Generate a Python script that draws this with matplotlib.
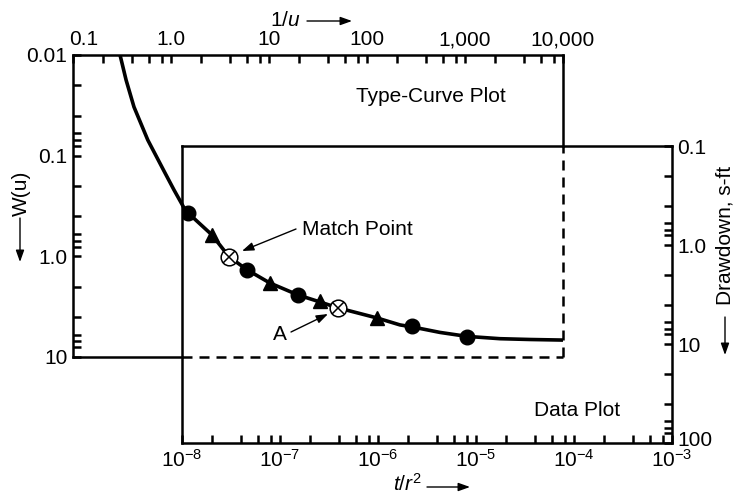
import numpy as np
import matplotlib
matplotlib.use("Agg")
import matplotlib.pyplot as plt
from matplotlib.patches import FancyArrowPatch
from matplotlib.transforms import ScaledTranslation

# Theis type-curve matching sketch: type curve (W(u) vs 1/u) laid over the data plot (s vs t/r^2)

plt.rcParams['font.family'] = ['Liberation Sans', 'DejaVu Sans']
plt.rcParams['mathtext.fontset'] = 'custom'
plt.rcParams['mathtext.rm'] = 'Liberation Sans'
plt.rcParams['mathtext.it'] = 'Liberation Sans:italic'

# type curve
inv_u = [0.302, 0.348, 0.419, 0.58, 0.869, 1.073, 1.341, 1.49, 2.62, 3.91, 5.97, 10.2,
         19.8, 33.1, 50.6, 126, 217, 288, 556, 1048, 2276, 4603, 10000]
w_u = [0.010, 0.0177, 0.0328, 0.070, 0.1485, 0.219, 0.323, 0.37, 0.613, 1.01, 1.36, 1.84,
       2.42, 2.84, 3.25, 4.09, 4.80, 5.02, 5.70, 6.24, 6.58, 6.70, 6.79]

# field data (t/r^2, drawdown in ft)
circ_t = [1.15e-8, 4.6e-8, 1.53e-7, 2.22e-6, 8.1e-6]
circ_s = [0.473, 1.77, 3.17, 6.65, 8.4]
tri_t = [2.02e-8, 7.9e-8, 2.56e-7, 9.8e-7]
tri_s = [0.79, 2.40, 3.72, 5.4]
match_t = [3.0e-8]
match_s = [1.31]
a_t = [3.9e-7]
a_s = [4.28]

top_ticks = [0.1, 1, 10, 100, 1000, 10000]
top_labels = ['0.1', '1.0', '10', '100', '1,000', '10,000']
w_ticks = [0.01, 0.1, 1, 10]
w_labels = ['0.01', '0.1', '1.0', '10']
t_ticks = [1e-8, 1e-7, 1e-6, 1e-5, 1e-4, 1e-3]
t_labels = [r'$\mathregular{10^{-8}}$', r'$\mathregular{10^{-7}}$', r'$\mathregular{10^{-6}}$',
            r'$\mathregular{10^{-5}}$', r'$\mathregular{10^{-4}}$', r'$\mathregular{10^{-3}}$']
s_ticks = [0.1, 1, 10, 100]
s_labels = ['0.1', '1.0', '10', '100']
x_minor_mult = [2, 4, 6, 8]
y_minor_mult = [2, 4, 6, 7, 8]

W, H = 736, 496
FS = 15
LW = 1.8


def rect(x0, y0, x1, y1):
    # pixel box (top-left origin) -> figure fraction rect
    return [x0 / W, 1 - y1 / H, (x1 - x0) / W, (y1 - y0) / H]


def fp(x, y):
    return (x / W, 1 - y / H)


def minor(lo, hi, mult):
    out = []
    for e in range(lo, hi):
        out += [m * 10.0 ** e for m in mult]
    return out


fig = plt.figure(figsize=(7.36, 4.96), dpi=100)
ax1 = fig.add_axes(rect(73, 55, 563, 357))
ax2 = fig.add_axes(rect(182, 146, 672, 443))
for ax in (ax1, ax2):
    ax.patch.set_alpha(0)
    ax.set_xscale('log')
    ax.set_yscale('log')
    for sp in ax.spines.values():
        sp.set_linewidth(LW)

# ---- type curve axes
ax1.set_xlim(0.1, 10000)
ax1.set_ylim(10, 0.01)
ax1.plot(inv_u, w_u, color='black', lw=2.6, solid_capstyle='butt', solid_joinstyle='round')
ax1.spines['bottom'].set_visible(False)
ax1.spines['right'].set_visible(False)
ax1.xaxis.set_ticks_position('top')
ax1.set_xticks(top_ticks, top_labels)
ax1.set_xticks(minor(-1, 4, x_minor_mult), minor=True)
ax1.set_yticks(w_ticks, w_labels)
ax1.set_yticks(minor(-2, 1, y_minor_mult), minor=True)
ax1.tick_params(which='both', direction='in', length=6, width=LW, labelsize=FS,
                top=True, bottom=False, left=True, right=False,
                labeltop=True, labelbottom=False, pad=4)
ax1.tick_params(axis='y', which='minor', labelleft=False)
ax1.tick_params(axis='x', which='minor', labeltop=False)
lab0 = ax1.get_xticklabels()[0]
lab0.set_ha('left')
lab0.set_transform(lab0.get_transform() + ScaledTranslation(-4 / 100, 0, fig.dpi_scale_trans))

# outline pieces of the type-curve box (dashed where it sits over the data plot)
p1 = ax1.get_position()
p2 = ax2.get_position()
fx = (p2.x0 - p1.x0) / p1.width
fy = (p2.y1 - p1.y0) / p1.height
kw = dict(transform=ax1.transAxes, color='black', lw=LW, clip_on=False)
ax1.plot([0, fx], [0, 0], **kw)
ax1.plot([fx, 1], [0, 0], dashes=(4, 2.8), **kw)
ax1.plot([1, 1], [fy, 1], **kw)
ax1.plot([1, 1], [0, fy], dashes=(4, 2.8), **kw)

# ---- data axes
ax2.set_xlim(1e-8, 1e-3)
ax2.set_ylim(100, 0.1)
ax2.plot(circ_t, circ_s, 'o', color='black', ms=10.5)
ax2.plot(tri_t, tri_s, '^', color='black', ms=10.5)
for xs, ys in ((match_t, match_s), (a_t, a_s)):
    ax2.plot(xs, ys, 'o', mfc='white', mec='black', ms=12, mew=1.1)
    ax2.plot(xs, ys, 'x', color='black', ms=8.5, mew=1.1)
ax2.yaxis.set_ticks_position('right')
ax2.set_xticks(t_ticks, t_labels)
ax2.set_xticks(minor(-8, -3, x_minor_mult), minor=True)
ax2.set_yticks(s_ticks, s_labels)
ax2.set_yticks(minor(-1, 2, y_minor_mult), minor=True)
ax2.tick_params(which='both', direction='in', length=6, width=LW, labelsize=FS,
                top=False, bottom=True, left=False, right=True,
                labelright=True, labelleft=False, pad=4)
ax2.tick_params(axis='x', which='minor', labelbottom=False)
ax2.tick_params(axis='y', which='minor', labelright=False)
lab_last = ax2.get_yticklabels()[-1]
lab_last.set_transform(lab_last.get_transform() + ScaledTranslation(0, 4 / 100, fig.dpi_scale_trans))

# ---- annotations
arr = dict(arrowstyle='-|>,head_length=0.7,head_width=0.25', color='black', lw=1.0,
           shrinkA=0, shrinkB=0, mutation_scale=10, transform=fig.transFigure)


def arrow(x0, y0, x1, y1):
    fig.add_artist(FancyArrowPatch(fp(x0, y0), fp(x1, y1), **arr))


fig.text(*fp(431, 97), 'Type-Curve Plot', fontsize=FS, ha='center', va='center')
fig.text(*fp(577, 410), 'Data Plot', fontsize=FS, ha='center', va='center')
fig.text(*fp(302, 230), 'Match Point', fontsize=FS, ha='left', va='center')
fig.text(*fp(280, 334), 'A', fontsize=FS, ha='center', va='center')
arrow(296, 229, 242, 251)
arrow(291, 332, 328, 314)

# axis titles with their arrows
fig.text(*fp(285, 21), r'1/$u$', fontsize=FS, ha='center', va='center')
arrow(307, 21, 352, 21)
fig.text(*fp(407, 484), r'$t/r^2$', fontsize=FS, ha='center', va='center')
arrow(427, 487, 470, 487)
fig.text(*fp(21, 193), 'W(u)', fontsize=FS, ha='center', va='center', rotation=90)
arrow(20, 218, 20, 262)
fig.text(*fp(725, 235), 'Drawdown, s-ft', fontsize=FS, ha='center', va='center', rotation=90)
arrow(725, 317, 725, 355)

fig.savefig('out.png', dpi=100)
